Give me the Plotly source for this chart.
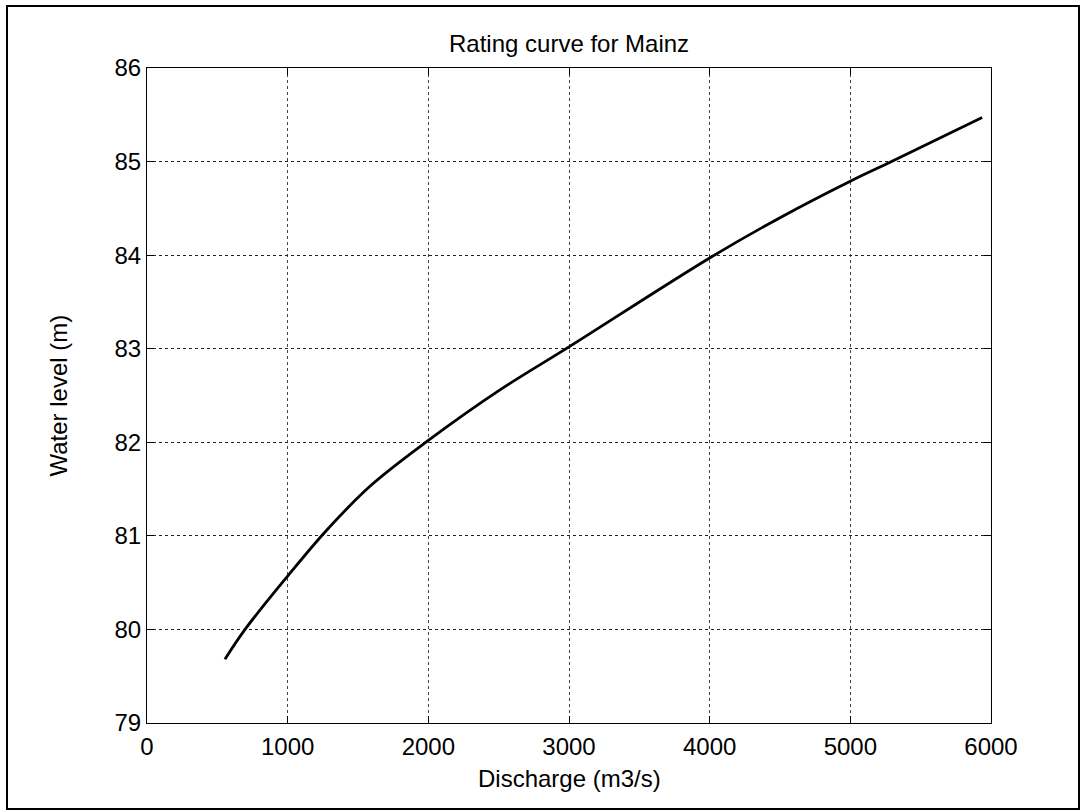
import plotly.graph_objects as go

# Rating curve data
discharge = [554, 697, 1000, 1277, 1585, 2000, 2509, 3000, 4000, 4500, 5000, 5293, 5937]
water_level = [79.68, 80.00, 80.57, 81.06, 81.53, 82.02, 82.56, 83.02, 83.97, 84.40, 84.79, 85.00, 85.47]

x_ticks = [0, 1000, 2000, 3000, 4000, 5000, 6000]
y_ticks = [79, 80, 81, 82, 83, 84, 85, 86]

title_text = "Rating curve for Mainz"
x_label = "Discharge (m3/s)"
y_label = "Water level (m)"

W, H = 1086, 812
L, R, T, B = 147, 991, 68, 723
pw, ph = R - L, B - T

def px(x):
    return (x - L) / pw

def py(y):
    return (B - y) / ph

font_family = "Liberation Sans, Arial, Helvetica, sans-serif"

fig = go.Figure()
fig.add_trace(go.Scatter(
    x=discharge, y=water_level, mode="lines",
    line=dict(color="black", width=2.8, shape="spline", smoothing=1.0),
    showlegend=False, hoverinfo="x+y",
))

axis_common = dict(
    showline=True, linecolor="black", linewidth=1, mirror="ticks",
    ticks="inside", ticklen=7, tickcolor="black", tickwidth=1,
    showgrid=True, gridwidth=1, griddash="3px,3px",
    zeroline=False,
    tickfont=dict(family=font_family, size=24, color="black"),
)

fig.update_xaxes(range=[0, 6000], tickvals=x_ticks, ticktext=[str(v) for v in x_ticks],
                 gridcolor="#444444", ticklabelstandoff=2, **axis_common)
fig.update_yaxes(range=[79, 86], tickvals=y_ticks, ticktext=[str(v) for v in y_ticks],
                 gridcolor="#222222", ticklabelstandoff=0, **axis_common)

fig.update_layout(
    width=W, height=H,
    margin=dict(l=L, r=W - R, t=T, b=H - B, pad=0),
    paper_bgcolor="white", plot_bgcolor="white",
    font=dict(family=font_family, color="black"),
    annotations=[
        dict(text=title_text, x=0.5, y=py(44), xref="paper", yref="paper",
             xanchor="center", yanchor="middle", showarrow=False,
             font=dict(size=24, family=font_family, color="black")),
        dict(text=x_label, x=0.5, y=py(778), xref="paper", yref="paper",
             xanchor="center", yanchor="middle", showarrow=False,
             font=dict(size=24, family=font_family, color="black")),
        dict(text=y_label, x=px(58), y=0.5, xref="paper", yref="paper",
             xanchor="center", yanchor="middle", showarrow=False, textangle=-90,
             font=dict(size=24, family=font_family, color="black")),
    ],
    shapes=[
        dict(type="rect", xref="paper", yref="paper",
             x0=px(7), x1=px(1079), y0=py(809), y1=py(6),
             line=dict(color="black", width=2), fillcolor="rgba(0,0,0,0)", layer="above"),
    ],
)

fig.write_html("out.html")
